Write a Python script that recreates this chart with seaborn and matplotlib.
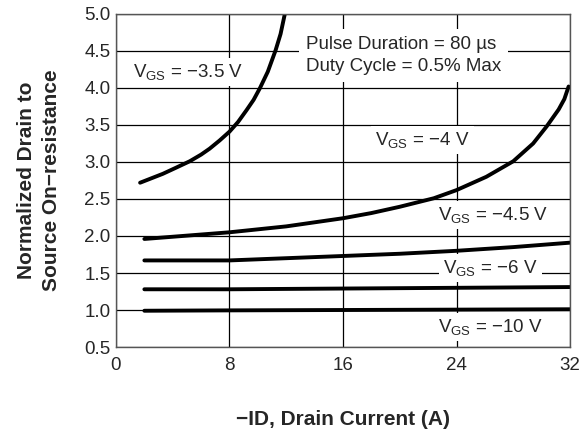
import matplotlib
matplotlib.use("Agg")
import matplotlib.pyplot as plt
import numpy as np
import pandas as pd
import seaborn as sns

# values (ID in A, normalized RDS(on))
id_35 = [1.7, 2.5, 3.3, 4.2, 5.2, 6.0, 6.6, 7.3, 8.0, 8.6, 9.2, 9.7, 10.15, 10.7, 11.25, 11.6, 11.9]
r_35 = [2.72, 2.78, 2.84, 2.92, 3.01, 3.10, 3.18, 3.29, 3.41, 3.54, 3.70, 3.84, 4.0, 4.22, 4.51, 4.73, 5.0]

id_4 = [2, 4, 8, 12, 16, 18, 20, 22.4, 24, 26.1, 28, 29.4, 30.35, 31.2, 31.6, 31.9]
r_4 = [1.96, 1.99, 2.05, 2.13, 2.24, 2.31, 2.395, 2.51, 2.62, 2.80, 3.01, 3.25, 3.48, 3.71, 3.85, 4.02]

id_45 = [2, 5, 8, 12, 16, 20, 24, 28, 32]
r_45 = [1.67, 1.67, 1.67, 1.70, 1.73, 1.76, 1.80, 1.85, 1.91]

id_6 = [2, 8, 16, 24, 32]
r_6 = [1.28, 1.28, 1.29, 1.30, 1.31]

id_10 = [2, 8, 16, 24, 32]
r_10 = [0.99, 0.995, 1.0, 1.005, 1.01]

labels = ["-3.5", "-4", "-4.5", "-6", "-10"]

frames = []
for lab, xs, ys in zip(labels, [id_35, id_4, id_45, id_6, id_10],
                       [r_35, r_4, r_45, r_6, r_10]):
    frames.append(pd.DataFrame({"ID": xs, "R": ys, "VGS": lab}))
df = pd.concat(frames, ignore_index=True)

sns.set_style("white")
plt.rcParams["font.family"] = ["Liberation Sans", "DejaVu Sans"]
plt.rcParams["mathtext.fontset"] = "custom"
plt.rcParams["mathtext.rm"] = "Liberation Sans"
plt.rcParams["mathtext.it"] = "Liberation Sans"

fig = plt.figure(figsize=(5.79, 4.33), dpi=100)
ax = fig.add_axes([0.2003, 0.1986, 0.7842, 0.7691])

sns.lineplot(data=df, x="ID", y="R", hue="VGS", sort=False,
             palette=["black"] * 5, linewidth=2.8, legend=False, ax=ax)

ax.set_xlim(0, 32)
ax.set_ylim(0.5, 5.0)
ax.set_xticks([0, 8, 16, 24, 32])
ax.set_yticks(np.arange(0.5, 5.01, 0.5))
ax.set_yticklabels([f"{v:.1f}" for v in np.arange(0.5, 5.01, 0.5)])
ax.grid(True, color="black", linewidth=0.9)
ax.set_axisbelow(True)
ax.tick_params(axis="both", length=0, labelsize=13.5)
ax.tick_params(axis="x", pad=7)
ax.tick_params(axis="y", pad=4)
for s in ax.spines.values():
    s.set_color("#555555")
    s.set_linewidth(1.0)

ax.set_xlabel("\u2212ID, Drain Current (A)", fontsize=15, fontweight="bold", labelpad=26)
ax.set_ylabel("Normalized Drain to\nSource On\u2212resistance", fontsize=15,
              fontweight="bold", labelpad=17, linespacing=1.35)

fs = 13.5
box = dict(facecolor="white", edgecolor="none", pad=3)
ax.text(1.2, 4.22, "V$_{\\mathrm{GS}}$ = \u22123.5 V", fontsize=fs, va="center", ha="left", bbox=box)
ax.text(21.6, 3.30, "V$_{\\mathrm{GS}}$ = \u22124 V", fontsize=fs, va="center", ha="center", bbox=box)
ax.text(26.6, 2.28, "V$_{\\mathrm{GS}}$ = \u22124.5 V", fontsize=fs, va="center", ha="center", bbox=box)
ax.text(26.4, 1.57, "V$_{\\mathrm{GS}}$ = \u22126 V", fontsize=fs, va="center", ha="center", bbox=box)
ax.text(26.4, 0.77, "V$_{\\mathrm{GS}}$ = \u221210 V", fontsize=fs, va="center", ha="center", bbox=box)
ax.text(13.4, 4.44, "Pulse Duration = 80 \u00b5s\nDuty Cycle = 0.5% Max", fontsize=fs,
        va="center", ha="left", linespacing=1.45,
        bbox=dict(facecolor="white", edgecolor="none", pad=5))

fig.savefig("out.png", dpi=100)
